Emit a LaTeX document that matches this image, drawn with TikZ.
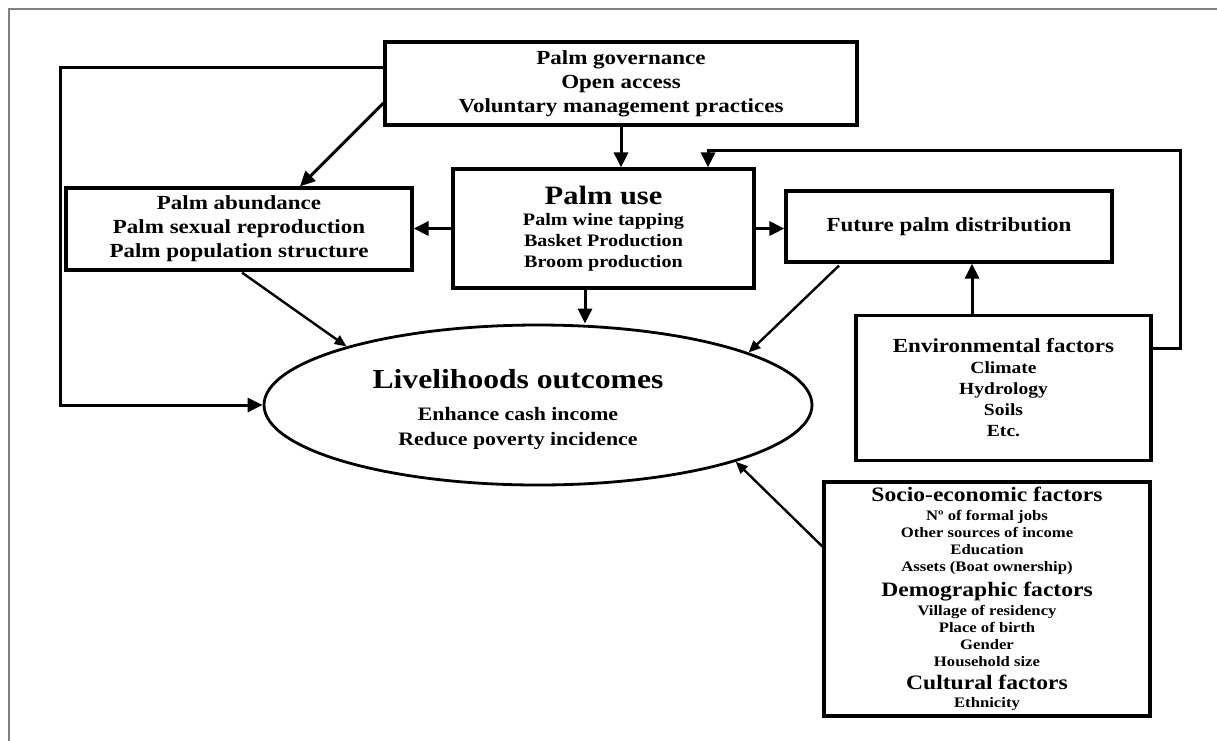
\documentclass[tikz,border=0pt]{standalone}
\usepackage{fontspec}
\setmainfont{Liberation Serif}[FakeStretch=1.15]
\usetikzlibrary{arrows.meta,positioning,shapes.geometric}
\definecolor{FrameGray}{RGB}{128,128,128}
\newcommand\setsz[2]{\fontsize{#1}{#2}\selectfont}
\tikzset{
  box/.style={draw,line width=3.2pt,inner sep=0pt,align=center},
  oval/.style={ellipse,draw,line width=2.8pt,inner sep=0pt,align=center},
  arr/.style={-{Triangle[length=15pt,width=14pt]},line width=3pt},
  thinarr/.style={-{Triangle[length=12pt,width=10pt]},line width=2.4pt}
}
\begin{document}
\begin{tikzpicture}[x=1pt,y=-1pt]
  \useasboundingbox (0,0) rectangle (1217,740);
  % outer frame
  \draw[FrameGray,line width=1.6pt] (9,750) -- (9,9) -- (1230,9);

  \node[box,minimum width=472pt,minimum height=83pt,font=\bfseries\setsz{20}{24}]
    (gov) at (621,83.5) {Palm governance\\Open access\\Voluntary management practices};
  \node[box,minimum width=346pt,minimum height=82pt,font=\bfseries\setsz{20}{24}]
    (abund) at (239,229) {Palm abundance\\Palm sexual reproduction\\Palm population structure};
  \node[box,minimum width=301pt,minimum height=119pt,font=\bfseries\setsz{17.5}{21}]
    (use) at (603.5,228.5) {{\setsz{26.5}{30}Palm use}\\Palm wine tapping\\Basket Production\\Broom production};
  \node[box,minimum width=326pt,minimum height=71pt,font=\bfseries\setsz{20}{24}]
    (future) at (949,226.5) {Future palm distribution};
  \node[box,minimum width=295pt,minimum height=145pt,font=\bfseries\setsz{17}{21}]
    (env) at (1003.5,388) {{\setsz{20}{24}Environmental factors}\\Climate\\Hydrology\\Soils\\Etc.};
  \node[box,minimum width=326pt,minimum height=234pt,font=\bfseries\setsz{14.5}{17}]
    (socio) at (987,599) {{\setsz{20.5}{23}Socio-economic factors}\\[2pt]
      Nº of formal jobs\\Other sources of income\\Education\\Assets (Boat ownership)\\[6pt]
      {\setsz{20.5}{23}Demographic factors}\\[2pt]
      Village of residency\\Place of birth\\Gender\\Household size\\[6pt]
      {\setsz{20.5}{23}Cultural factors}\\[1pt]
      Ethnicity};
  \node[oval,minimum width=548pt,minimum height=160pt] (out) at (538,405) {};
  \node[font=\bfseries\setsz{19}{25},align=center] (outtext) at (518,409)
    {{\setsz{27.5}{32}Livelihoods outcomes}\\[7pt]Enhance cash income\\Reduce poverty incidence};

  \coordinate (govleft) at (60,67);
  \coordinate (fb) at (708,150);

  \draw[arr] (gov.south) -- (gov.south |- use.north);
  \draw[arr] ([yshift=-19.5pt]gov.west) -- ([xshift=61pt]abund.north);
  \draw[arr] ([yshift=16.5pt]gov.west) -- (govleft) |- (out.west);
  \draw[arr] (use.west) -- (use.west -| abund.east);
  \draw[arr] (use.east) -- (use.east -| future.west);
  \draw[arr] ([xshift=-18.5pt]use.south) -- ([xshift=-18.5pt]use.south |- out.north);
  \draw[thinarr] ([xshift=3pt,yshift=-1pt]abund.south) -- (out.163);
  \draw[thinarr] ([xshift=-110pt,yshift=-2pt]future.south) -- (out.14);
  \draw[arr] ([xshift=-31.5pt]env.north) -- ([xshift=-31.5pt]env.north |- future.south);
  \draw[thinarr] ([yshift=52.5pt]socio.west) -- (out.-16);
  \draw[arr] ([yshift=40pt]env.east) -- ++(28,0) |- (fb) -- (fb |- use.north);
\end{tikzpicture}
\end{document}
